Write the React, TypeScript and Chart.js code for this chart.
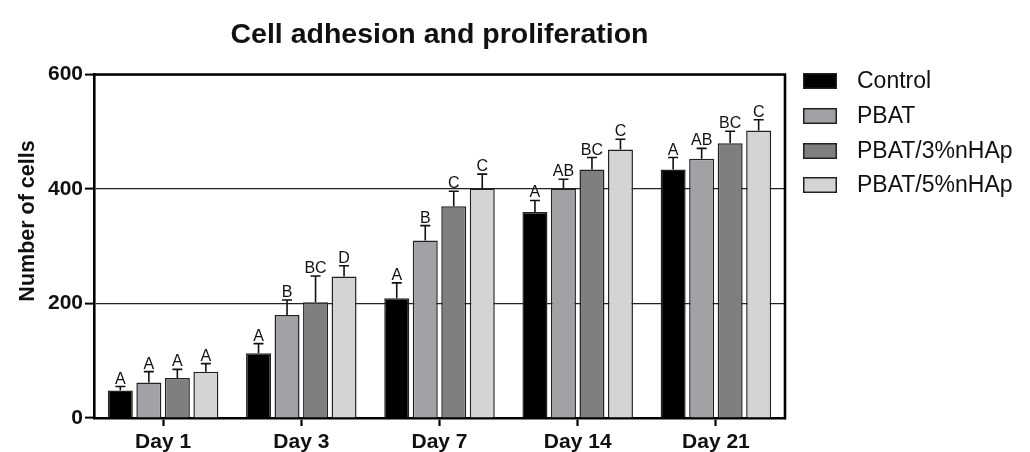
import React, { useEffect, useRef } from "react";
import { Chart, registerables } from "chart.js";

Chart.register(...registerables);

const categories = ["Day 1", "Day 3", "Day 7", "Day 14", "Day 21"];
const seriesNames = ["Control", "PBAT", "PBAT/3%nHAp", "PBAT/5%nHAp"];
const seriesColors = ["#000000", "#a2a2a6", "#7f7f7f", "#d4d4d4"];

const controlValues = [48, 113, 209, 360, 434];
const pbatValues = [62, 180, 310, 401, 453];
const pbat3Values = [70, 202, 370, 434, 480];
const pbat5Values = [81, 247, 401, 469, 502];

const controlErrors = [7, 17, 27, 20, 21];
const pbatErrors = [19, 26, 26, 16, 18];
const pbat3Errors = [15, 46, 26, 21, 21];
const pbat5Errors = [14, 19, 25, 18, 19];

const controlLetters = ["A", "A", "A", "A", "A"];
const pbatLetters = ["A", "B", "B", "AB", "AB"];
const pbat3Letters = ["A", "BC", "C", "BC", "BC"];
const pbat5Letters = ["A", "D", "C", "C", "C"];

const yTickValues = [0, 200, 400, 600];

const allValues = [controlValues, pbatValues, pbat3Values, pbat5Values];
const allErrors = [controlErrors, pbatErrors, pbat3Errors, pbat5Errors];
const allLetters = [controlLetters, pbatLetters, pbat3Letters, pbat5Letters];

const FONT = "'Liberation Sans', Arial, Helvetica, sans-serif";

const errorPlugin = {
  id: "errorBarsLetters",
  afterDatasetsDraw(chart: any) {
    const ctx = chart.ctx;
    const y = chart.scales.y;
    ctx.save();
    allValues.forEach((vals, i) => {
      const meta = chart.getDatasetMeta(i);
      meta.data.forEach((bar: any, j: number) => {
        const v = vals[j];
        const e = allErrors[i][j];
        const yTop = y.getPixelForValue(v);
        const yCap = y.getPixelForValue(v + e);
        const x = bar.x;
        ctx.strokeStyle = "#111";
        ctx.lineWidth = 1.6;
        ctx.beginPath();
        ctx.moveTo(x, yTop);
        ctx.lineTo(x, yCap);
        ctx.moveTo(x - 5, yCap);
        ctx.lineTo(x + 5, yCap);
        ctx.stroke();
        ctx.fillStyle = "#111";
        ctx.font = `16px ${FONT}`;
        ctx.textAlign = "center";
        ctx.textBaseline = "alphabetic";
        ctx.fillText(allLetters[i][j], x, yCap - 3);
      });
    });
    ctx.restore();
  },
};

const framePlugin = {
  id: "frameLegendTitle",
  afterDraw(chart: any) {
    const ctx = chart.ctx;
    const a = chart.chartArea;
    ctx.save();
    // top and right frame lines
    ctx.strokeStyle = "#000";
    ctx.lineWidth = 2.6;
    ctx.beginPath();
    ctx.moveTo(a.left - 1.3, a.top);
    ctx.lineTo(a.right, a.top);
    ctx.lineTo(a.right, a.bottom + 1.3);
    ctx.stroke();

    // y axis title
    ctx.fillStyle = "#111";
    ctx.font = `bold 21.5px ${FONT}`;
    ctx.textAlign = "center";
    ctx.textBaseline = "middle";
    ctx.translate(28, 221);
    ctx.rotate(-Math.PI / 2);
    ctx.fillText("Number of cells", 0, 0);
    ctx.restore();

    // legend
    ctx.save();
    const rowY = [81, 116, 151, 185];
    seriesNames.forEach((name, i) => {
      const cy = rowY[i];
      ctx.fillStyle = seriesColors[i];
      ctx.fillRect(803, cy - 8, 34, 16);
      ctx.strokeStyle = "#222";
      ctx.lineWidth = 1.5;
      ctx.strokeRect(803.75, cy - 7.25, 32.5, 14.5);
      ctx.fillStyle = "#111";
      ctx.font = `23px ${FONT}`;
      ctx.textAlign = "left";
      ctx.textBaseline = "middle";
      ctx.fillText(name, 857, cy + 1);
    });
    ctx.restore();
  },
};

export default function App() {
  const canvasRef = useRef<HTMLCanvasElement | null>(null);

  useEffect(() => {
    if (!canvasRef.current) return;
    const chart = new Chart(canvasRef.current, {
      type: "bar",
      data: {
        labels: categories,
        datasets: seriesNames.map((name, i) => ({
          label: name,
          data: allValues[i],
          backgroundColor: seriesColors[i],
          borderColor: "#222",
          borderWidth: 1.5,
          categoryPercentage: 0.825,
          barPercentage: 0.877,
        })),
      },
      options: {
        animation: false,
        responsive: false,
        maintainAspectRatio: false,
        layout: { padding: { left: 0, right: 245, top: 0, bottom: 0 } },
        plugins: {
          legend: { display: false },
          tooltip: { enabled: false },
          title: {
            display: true,
            text: "Cell adhesion and proliferation",
            fullSize: false,
            color: "#111",
            font: { family: FONT, size: 28.5, weight: "bold" },
            padding: { top: 18, bottom: 22.3 },
          },
        },
        scales: {
          x: {
            offset: true,
            grid: {
              offset: false,
              drawOnChartArea: false,
              drawTicks: true,
              tickLength: 8,
              tickWidth: 2.2,
              tickColor: "#000",
            },
            border: { display: true, color: "#000", width: 2.6 },
            ticks: {
              color: "#111",
              padding: 4,
              font: { family: FONT, size: 21, weight: "bold" },
            },
            afterFit: (s: any) => {
              s.height = 34;
            },
          },
          y: {
            min: 0,
            max: 600,
            afterBuildTicks: (s: any) => {
              s.ticks = yTickValues.map((v) => ({ value: v }));
            },
            grid: {
              color: "#222",
              lineWidth: 1.2,
              drawTicks: true,
              tickLength: 9,
              tickWidth: 2,
              tickColor: "#000",
            },
            border: { display: true, color: "#000", width: 2.6 },
            ticks: {
              color: "#111",
              padding: 2,
              font: { family: FONT, size: 21, weight: "bold" },
            },
            afterFit: (s: any) => {
              s.width = 94;
            },
          },
        },
      },
      plugins: [errorPlugin, framePlugin],
    });
    return () => chart.destroy();
  }, []);

  return (
    <div style={{ position: "fixed", left: 0, top: 0, width: 1030, height: 452, background: "#fff" }}>
      <canvas ref={canvasRef} width={1030} height={452} style={{ width: 1030, height: 452 }} />
    </div>
  );
}
